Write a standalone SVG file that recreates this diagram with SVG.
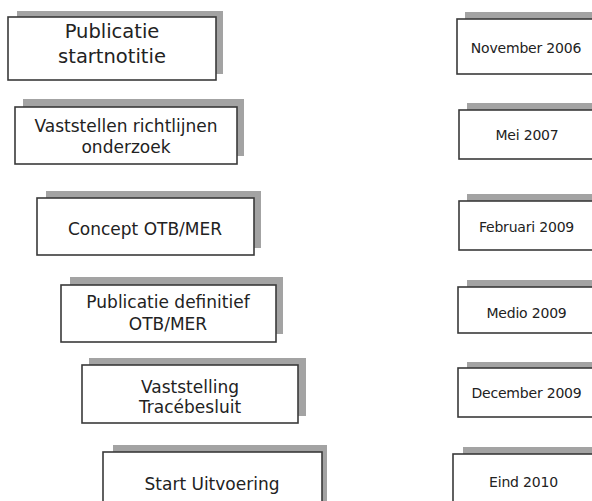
<svg xmlns="http://www.w3.org/2000/svg" width="592" height="501" viewBox="0 0 592 501">
<style>
.sh{fill:#a3a3a3;}
.fr{fill:#ffffff;stroke:#3a3a3a;stroke-width:1.6;}
.t{font-family:"DejaVu Sans","Liberation Sans",sans-serif;fill:#222;text-anchor:middle;}
.big{font-size:19.5px;}
.mid{font-size:17px;}
.sm{font-size:14px;letter-spacing:-0.2px;}
</style>
<rect width="592" height="501" fill="#ffffff"/>
<g id="L1">
<rect class="sh" x="17" y="11" width="206" height="63"/>
<rect class="fr" x="8" y="17" width="208" height="63"/>
<text class="t big" x="112" y="38">Publicatie</text>
<text class="t big" x="112" y="63">startnotitie</text>
</g>
<g id="L2">
<rect class="sh" x="23" y="99" width="221" height="57"/>
<rect class="fr" x="15" y="107" width="222" height="57"/>
<text class="t mid" x="126" y="132">Vaststellen richtlijnen</text>
<text class="t mid" x="126" y="153">onderzoek</text>
</g>
<g id="L3">
<rect class="sh" x="46" y="191" width="215" height="57"/>
<rect class="fr" x="37" y="198" width="217" height="57"/>
<text class="t mid" x="145" y="235">Concept OTB/MER</text>
</g>
<g id="L4">
<rect class="sh" x="70" y="277" width="213" height="57"/>
<rect class="fr" x="61" y="285" width="215" height="57"/>
<text class="t mid" x="168" y="308">Publicatie definitief</text>
<text class="t mid" x="168" y="330">OTB/MER</text>
</g>
<g id="L5">
<rect class="sh" x="89" y="358" width="217" height="58"/>
<rect class="fr" x="82" y="365" width="216" height="58"/>
<text class="t mid" x="190" y="393">Vaststelling</text>
<text class="t mid" x="190" y="413">Tracébesluit</text>
</g>
<g id="L6">
<rect class="sh" x="113" y="445" width="214" height="70"/>
<rect class="fr" x="103" y="452" width="219" height="70"/>
<text class="t mid" x="212" y="490">Start Uitvoering</text>
</g>
<g id="R1">
<rect class="sh" x="465" y="12" width="150" height="55"/>
<rect class="fr" x="457" y="19" width="150" height="55"/>
<text class="t sm" x="526" y="53">November 2006</text>
</g>
<g id="R2">
<rect class="sh" x="467" y="103" width="150" height="49"/>
<rect class="fr" x="459" y="110" width="150" height="49"/>
<text class="t sm" x="527" y="140">Mei 2007</text>
</g>
<g id="R3">
<rect class="sh" x="467" y="194" width="150" height="49"/>
<rect class="fr" x="459" y="201" width="150" height="49"/>
<text class="t sm" x="526.5" y="232">Februari 2009</text>
</g>
<g id="R4">
<rect class="sh" x="467" y="280" width="150" height="46"/>
<rect class="fr" x="458" y="287" width="150" height="46"/>
<text class="t sm" x="526.5" y="318">Medio 2009</text>
</g>
<g id="R5">
<rect class="sh" x="467" y="362" width="150" height="49"/>
<rect class="fr" x="458" y="368" width="150" height="49"/>
<text class="t sm" x="526.5" y="398">December 2009</text>
</g>
<g id="R6">
<rect class="sh" x="463" y="447" width="150" height="70"/>
<rect class="fr" x="453" y="454" width="150" height="70"/>
<text class="t sm" x="523.5" y="487">Eind 2010</text>
</g>
</svg>
